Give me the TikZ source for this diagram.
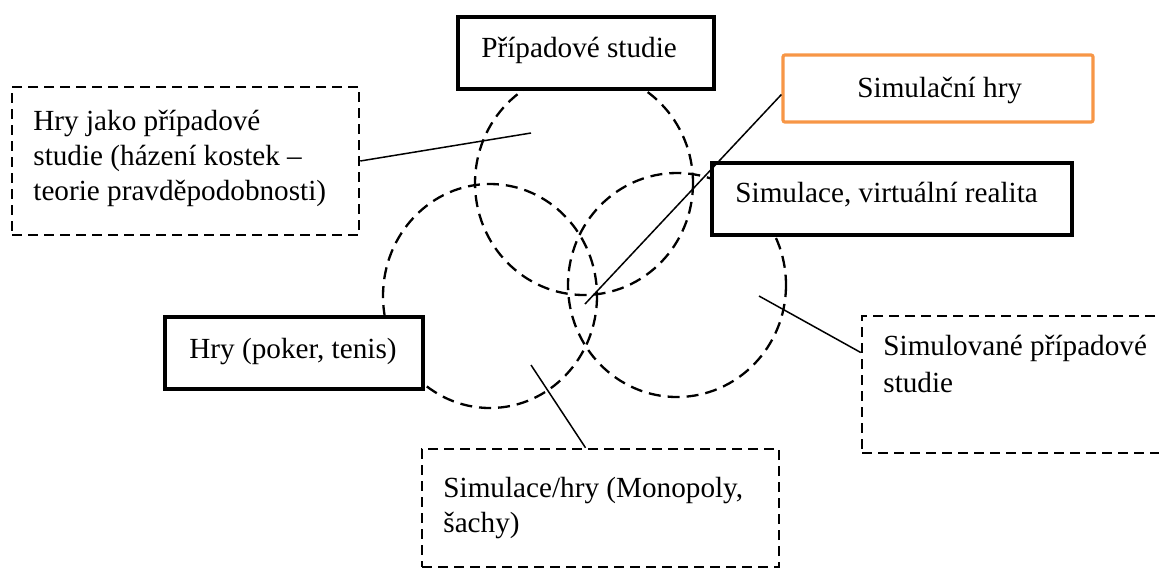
\documentclass[tikz,border=0pt]{standalone}
\usepackage{fontspec}
\setmainfont{Liberation Serif}
\usetikzlibrary{fit}

\definecolor{accentorange}{HTML}{F79646}

\begin{document}
\begin{tikzpicture}[x=0.5pt,y=-0.5pt,
  txt/.style={font=\fontsize{14.6}{17.5}\selectfont, inner sep=0pt, anchor=base west, align=left},
  para/.style={txt, anchor=north west},
  ring/.style={draw, line width=1.15pt, dash pattern=on 6pt off 3.5pt},
  thickbox/.style={draw, line width=2.3pt, fill=white, inner sep=0pt},
  orangebox/.style={draw=accentorange, line width=1.6pt, fill=white, inner sep=0pt, rounded corners=1pt},
  dashbox/.style={draw, line width=1.25pt, dash pattern=on 5pt off 3pt, fill=white, inner sep=0pt},
  link/.style={line width=0.75pt}]

\useasboundingbox (0,0) rectangle (1159,569);

% three overlapping dashed sets
\draw[ring] (584,183) ellipse [x radius=109, y radius=112];
\draw[ring] (490,296) ellipse [x radius=107, y radius=112];
\draw[ring] (677,285) ellipse [x radius=109, y radius=112];

% solid frames naming each set
\node[thickbox, fit={(458,17) (714,89)}] (cases) {};
\node[txt] (casesT) at (481,57) {Případové studie};

\node[orangebox, fit={(783,55) (1093,122)}] (simgames) {};
\node[txt] (simgamesT) at (857,97) {Simulační hry};

\node[thickbox, fit={(712,163) (1072,235)}] (sim) {};
\node[txt] (simT) at (735,202) {Simulace, virtuální realita};

\node[thickbox, fit={(165,317) (423,389)}] (games) {};
\node[txt] (gamesT) at (189,358) {Hry (poker, tenis)};

% dashed frames for the overlaps
\node[dashbox, fit={(12,87) (359,235)}] (gamecases) {};
\node[para] (gamecasesT) at (33,110) {Hry jako případové\\studie (házení kostek –\\teorie pravděpodobnosti)};

\node[dashbox, fit={(862,316) (1180,453)}] (simcases) {};
\node[para] (simcasesT) at (883,335) {Simulované případové\\[1pt]studie};

\node[dashbox, fit={(422,449) (779,567)}] (simplay) {};
\node[para] (simplayT) at (443,477) {Simulace/hry (Monopoly,\\šachy)};

% ends of the pointers inside the regions
\coordinate (pCases) at (531,133);
\coordinate (pCentre) at (585,304);
\coordinate (pSim) at (759,296);
\coordinate (pPlay) at (531,365);

\draw[link] (gamecases.east) -- (pCases);
\draw[link] ([yshift=-3pt]simgames.west) -- (pCentre);
\draw[link] ([yshift=16pt]simcases.west) -- (pSim);
\draw[link] ([xshift=-7.5pt]simplay.north) -- (pPlay);

\end{tikzpicture}
\end{document}
